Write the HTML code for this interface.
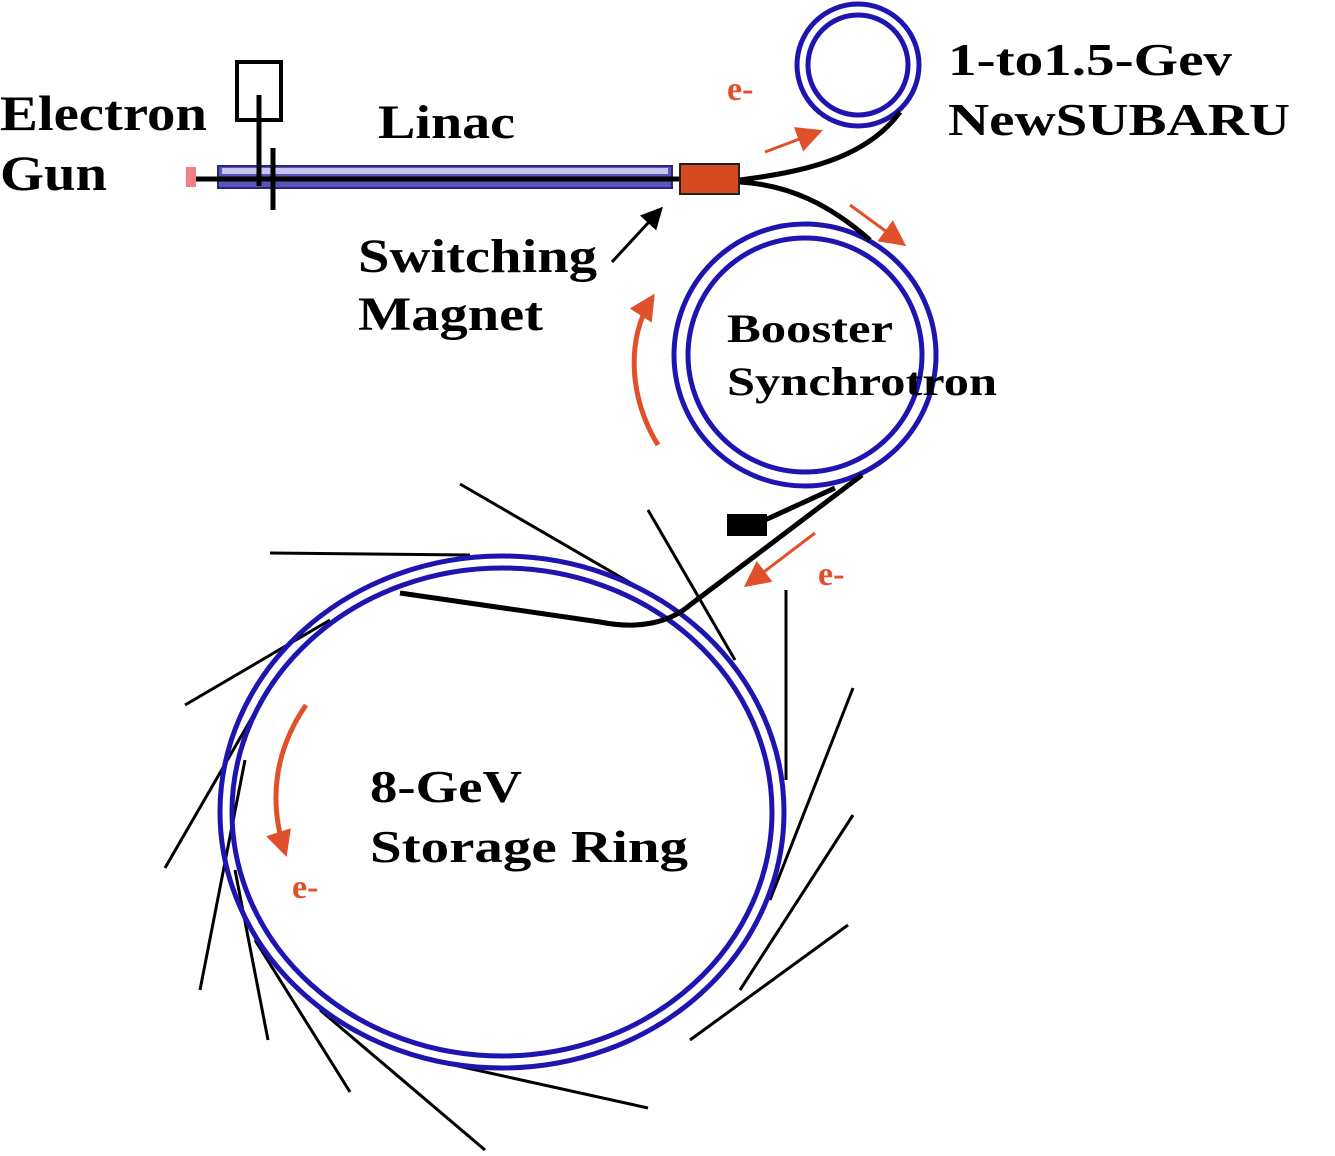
<!DOCTYPE html>
<html><head><style>html,body{margin:0;padding:0;background:#fff}svg{display:block}</style></head><body>
<svg width="1335" height="1156" viewBox="0 0 1335 1156" xmlns="http://www.w3.org/2000/svg">
<defs>
<marker id="ra" viewBox="0 0 10 10" refX="8" refY="5" markerWidth="8" markerHeight="8" markerUnits="userSpaceOnUse" orient="auto"><path d="M0,0 L10,5 L0,10 z" fill="#e0502a"/></marker>
<marker id="ra2" viewBox="0 0 10 10" refX="8" refY="5" markerWidth="28" markerHeight="26" markerUnits="userSpaceOnUse" orient="auto"><path d="M0,0 L10,5 L0,10 z" fill="#e0502a"/></marker>
<marker id="ba" viewBox="0 0 10 10" refX="8" refY="5" markerWidth="24" markerHeight="22" markerUnits="userSpaceOnUse" orient="auto"><path d="M0,0 L10,5 L0,10 z" fill="#000"/></marker>
</defs>
<g fill="none" stroke="#000" stroke-width="3">
<line x1="270" y1="553" x2="470" y2="555"/>
<line x1="460" y1="484" x2="660" y2="600"/>
<line x1="648" y1="510" x2="735" y2="660"/>
<line x1="786" y1="590" x2="786" y2="780"/>
<line x1="853" y1="688" x2="770" y2="900"/>
<line x1="853" y1="815" x2="740" y2="990"/>
<line x1="848" y1="925" x2="690" y2="1040"/>
<line x1="185" y1="705" x2="330" y2="620"/>
<line x1="165" y1="868" x2="265" y2="695"/>
<line x1="200" y1="990" x2="245" y2="760"/>
<line x1="268" y1="1040" x2="235" y2="870"/>
<line x1="350" y1="1092" x2="255" y2="940"/>
<line x1="485" y1="1150" x2="320" y2="1010"/>
<line x1="648" y1="1108" x2="440" y2="1062"/>
</g>
<g fill="none" stroke="#1e14b0" stroke-width="5">
<ellipse cx="502" cy="812" rx="282" ry="256"/>
<ellipse cx="502" cy="812" rx="270" ry="244"/>
<circle cx="805" cy="355" r="131"/>
<circle cx="805" cy="355" r="117"/>
<circle cx="858" cy="65" r="61"/>
<circle cx="858" cy="65" r="50"/>
</g>
<g fill="none" stroke="#000" stroke-width="5">
<path d="M740,180 C800,172 865,160 900,112"/>
<path d="M740,182 C790,185 830,205 870,240"/>
<path d="M862,475 L690,605 C670,622 640,630 600,622 L400,593"/>
<path d="M835,488 L765,520"/>
</g>
<rect x="727" y="514" width="40" height="22" fill="#000"/>
<rect x="218" y="166" width="454" height="22" fill="#5a55b8" stroke="#2a2680" stroke-width="2"/>
<rect x="222" y="168" width="446" height="6" fill="#c8c6ee"/>
<line x1="195" y1="179" x2="680" y2="179" stroke="#000" stroke-width="5"/>
<rect x="186" y="167" width="10" height="20" fill="#f07f86"/>
<rect x="237" y="62" width="44" height="58" fill="none" stroke="#000" stroke-width="4"/>
<line x1="259" y1="95" x2="259" y2="186" stroke="#000" stroke-width="5"/>
<line x1="273" y1="148" x2="273" y2="210" stroke="#000" stroke-width="5"/>
<rect x="680" y="164" width="59" height="30" fill="#d64a22" stroke="#222" stroke-width="2"/>
<line x1="612" y1="262" x2="660" y2="210" stroke="#000" stroke-width="3" marker-end="url(#ba)"/>
<g fill="none" stroke="#e0502a" stroke-width="3">
<line x1="765" y1="152" x2="818" y2="132" marker-end="url(#ra2)"/>
<line x1="850" y1="205" x2="902" y2="243" marker-end="url(#ra2)"/>
<path d="M658,445 C630,400 625,340 652,298" stroke-width="5" marker-end="url(#ra2)"/>
<line x1="815" y1="533" x2="748" y2="584" marker-end="url(#ra2)"/>
<path d="M306,705 C275,750 268,800 285,852" stroke-width="5" marker-end="url(#ra2)"/>
</g>
<g font-family="Liberation Serif, serif" font-weight="bold" fill="#000" lengthAdjust="spacingAndGlyphs">
<text x="0" y="130" font-size="50" textLength="207" lengthAdjust="spacingAndGlyphs">Electron</text>
<text x="0" y="190" font-size="50" textLength="107" lengthAdjust="spacingAndGlyphs">Gun</text>
<text x="378" y="138" font-size="48" textLength="137" lengthAdjust="spacingAndGlyphs">Linac</text>
<text x="358" y="272" font-size="48" textLength="239" lengthAdjust="spacingAndGlyphs">Switching</text>
<text x="358" y="330" font-size="48" textLength="185" lengthAdjust="spacingAndGlyphs">Magnet</text>
<text x="948" y="75" font-size="46" textLength="284" lengthAdjust="spacingAndGlyphs">1-to1.5-Gev</text>
<text x="948" y="135" font-size="46" textLength="342" lengthAdjust="spacingAndGlyphs">NewSUBARU</text>
<text x="727" y="342" font-size="40" textLength="166" lengthAdjust="spacingAndGlyphs">Booster</text>
<text x="727" y="395" font-size="40" textLength="270" lengthAdjust="spacingAndGlyphs">Synchrotron</text>
<text x="370" y="802" font-size="46" textLength="152" lengthAdjust="spacingAndGlyphs">8-GeV</text>
<text x="370" y="862" font-size="46" textLength="318" lengthAdjust="spacingAndGlyphs">Storage Ring</text>
</g>
<g font-family="Liberation Serif, serif" font-weight="bold" fill="#e0502a" font-size="34">
<text x="727" y="100">e-</text>
<text x="818" y="585">e-</text>
<text x="292" y="898">e-</text>
</g>
</svg>
</body></html>
